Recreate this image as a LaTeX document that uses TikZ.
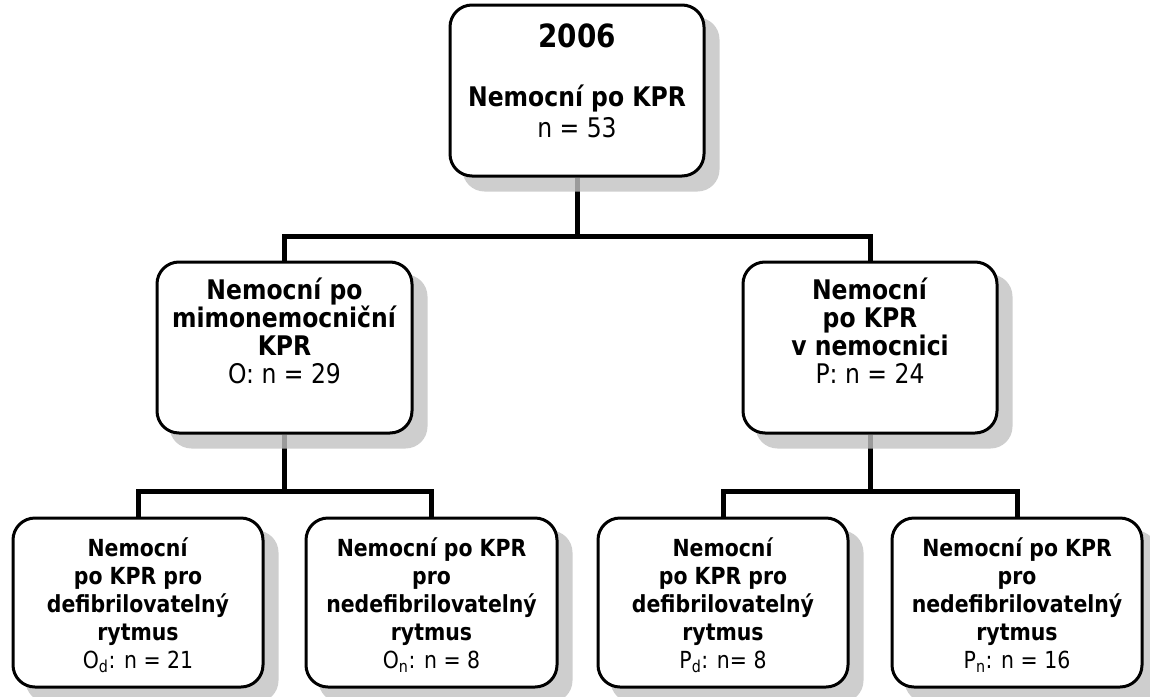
\documentclass[tikz,border=0pt]{standalone}
\usepackage{fontspec}
\setmainfont[FakeStretch=0.87]{DejaVu Sans}
\pgfdeclarelayer{bg}
\pgfdeclarelayer{shadowlayer}
\pgfsetlayers{bg,shadowlayer,main}
\tikzset{
  box/.style={draw, line width=3pt, rounded corners=22pt, fill=white, inner sep=0pt},
  shadowfill/.style={fill=black!24, rounded corners=22pt, opacity=0.8},
  conn/.style={line width=5pt, line join=miter},
  toptxt/.style={align=center, inner sep=0pt, font={\fontsize{27}{31}\selectfont}},
  midtxt/.style={align=center, inner sep=0pt, font={\fontsize{27}{28}\selectfont}},
  bottxt/.style={align=center, inner sep=0pt, font={\fontsize{23.5}{28}\selectfont}},
  yeartxt/.style={inner sep=0pt, font={\fontsize{32}{36}\selectfont\bfseries}}
}
\begin{document}
\begin{tikzpicture}[x=1pt,y=-1pt]
\useasboundingbox (0,0) rectangle (1150,696);
% boxes
\node[box, minimum width=254pt, minimum height=171pt] (top) at (577,90.5) {};
\node[box, minimum width=255pt, minimum height=171pt] (ml) at (284.5,347.5) {};
\node[box, minimum width=254pt, minimum height=171pt] (mr) at (870,347.5) {};
\node[box, minimum width=250pt, minimum height=169pt] (b1) at (138,602.5) {};
\node[box, minimum width=251pt, minimum height=169pt] (b2) at (431.5,602.5) {};
\node[box, minimum width=250pt, minimum height=169pt] (b3) at (723,602.5) {};
\node[box, minimum width=250pt, minimum height=169pt] (b4) at (1017,602.5) {};
% shadows
\begin{pgfonlayer}{shadowlayer}
\foreach \b in {top,ml,mr,b1,b2,b3,b4}{
  \fill[shadowfill] ([shift={(14,14)}]\b.north west) rectangle ([shift={(14,14)}]\b.south east);
}
\end{pgfonlayer}
% connectors
\begin{pgfonlayer}{bg}
\draw[conn] (top.south) -- ++(0,59) coordinate (j0) -| (ml.north);
\draw[conn] (j0) -| (mr.north);
\draw[conn] (ml.south) -- ++(0,57) coordinate (j1) -| (b1.north);
\draw[conn] (j1) -| (b2.north);
\draw[conn] (mr.south) -- ++(0,57) coordinate (j2) -| (b3.north);
\draw[conn] (j2) -| (b4.north);
\end{pgfonlayer}
% texts
\node[yeartxt] (tyear) at (577,36) {2006};
\node[toptxt] (ttop) at (577,111) {\textbf{Nemocní po KPR}\\n = 53};
\node[midtxt] (tml) at (284.5,331) {\textbf{Nemocní po}\\\textbf{mimonemocniční}\\\textbf{KPR}\\O: n = 29};
\node[midtxt] (tmr) at (870,331) {\textbf{Nemocní}\\\textbf{po KPR}\\\textbf{v nemocnici}\\P: n = 24};
\node[bottxt] (tb1) at (138,605) {\textbf{Nemocní}\\\textbf{po KPR pro}\\\textbf{defibrilovatelný}\\\textbf{rytmus}\\O\textsubscript{d}: n = 21};
\node[bottxt] (tb2) at (431.5,605) {\textbf{Nemocní po KPR}\\\textbf{pro}\\\textbf{nedefibrilovatelný}\\\textbf{rytmus}\\O\textsubscript{n}: n = 8};
\node[bottxt] (tb3) at (723,605) {\textbf{Nemocní}\\\textbf{po KPR pro}\\\textbf{defibrilovatelný}\\\textbf{rytmus}\\P\textsubscript{d}: n= 8};
\node[bottxt] (tb4) at (1017,605) {\textbf{Nemocní po KPR}\\\textbf{pro}\\\textbf{nedefibrilovatelný}\\\textbf{rytmus}\\P\textsubscript{n}: n = 16};
\end{tikzpicture}
\end{document}
